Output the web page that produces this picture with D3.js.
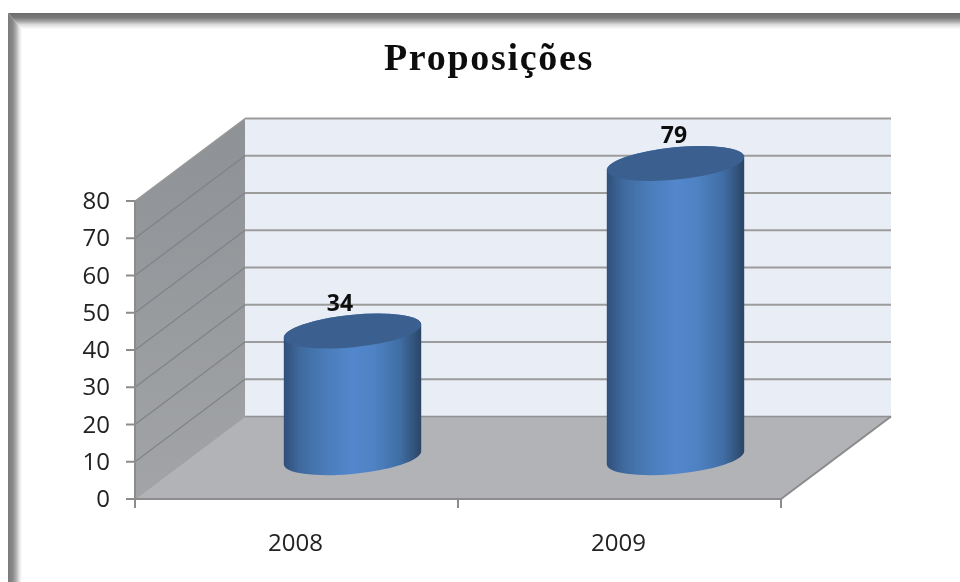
<!DOCTYPE html>
<html><head><meta charset="utf-8">
<script src="https://cdn.jsdelivr.net/npm/d3@7/dist/d3.min.js"></script>
<style>html,body{margin:0;padding:0;background:#fff}svg{display:block}</style></head>
<body><svg id="c" width="960" height="582"></svg>
<script>
const titleText = "Proposições";
const categories = ["2008", "2009"];
const values = [34, 79];
const yTicks = [0,10,20,30,40,50,60,70,80];

const svg = d3.select("#c");
const depthX = 110, depthY = -82.5;
const y = d3.scaleLinear().domain([0,80]).range([499,201]);
const x = d3.scaleBand().domain(categories).range([135,781]);
const defs = svg.append("defs");

function grad(id, x1,y1,x2,y2, stops){
  const g = defs.append("linearGradient").attr("id",id).attr("x1",x1).attr("y1",y1).attr("x2",x2).attr("y2",y2);
  stops.forEach(s=>g.append("stop").attr("offset",s[0]).attr("stop-color",s[1]));
}
grad("frameT",0,0,0,1,[[0,"#6c6c6c"],[0.28,"#787878"],[0.5,"#a0a0a0"],[0.72,"#dadada"],[1,"#ffffff"]]);
grad("frameL",0,0,1,0,[[0,"#7a7a7a"],[0.35,"#8a8a8a"],[0.6,"#b4b4b4"],[0.8,"#e2e2e2"],[1,"#ffffff"]]);
grad("cyl",0,0,1,0,[[0,"#2f4f7a"],[0.12,"#3f6a9e"],[0.3,"#4a7cb8"],[0.5,"#5287cd"],[0.66,"#4f82c3"],[0.85,"#3f6da3"],[1,"#2b4566"]]);
grad("side",0,1,0,0,[[0,"#a2a4a7"],[1,"#8e9195"]]);
defs.append("filter").attr("id","soft").attr("x","-2%").attr("y","-2%").attr("width","104%").attr("height","104%")
  .append("feGaussianBlur").attr("stdDeviation",0.5);

// picture frame
const frame = svg.append("g");
frame.append("polygon").attr("points","8,13 960,13 960,29 22,29").attr("fill","url(#frameT)");
frame.append("polygon").attr("points","8,13 22,29 22,582 8,582").attr("fill","url(#frameL)");

const root = svg.append("g").attr("filter","url(#soft)");
const line = d3.line();

// back wall, floor, side wall
const x0 = x.range()[0], x1 = x.range()[1];
const y0 = y(0), yT = y(80);
root.append("path").attr("d",line([[x0+depthX,yT+depthY],[x1+depthX,yT+depthY],[x1+depthX,y0+depthY],[x0+depthX,y0+depthY]])+"Z").attr("fill","#e9edf6");
root.append("path").attr("d",line([[x0,y0],[x1,y0],[x1+depthX,y0+depthY],[x0+depthX,y0+depthY]])+"Z").attr("fill","#b1b3b7");
root.append("path").attr("d",line([[x0,y0],[x0+depthX,y0+depthY],[x0+depthX,yT+depthY],[x0,yT]])+"Z").attr("fill","url(#side)");

// grid
yTicks.forEach(t=>{
  if(t>0) root.append("path").attr("d",line([[x0,y(t)],[x0+depthX,y(t)+depthY]])).attr("stroke",t===80?"#9a9a9a":"#7f8286").attr("stroke-width",1.2).attr("fill","none");
  root.append("path").attr("d",line([[x0+depthX,y(t)+depthY],[x1+depthX,y(t)+depthY]])).attr("stroke",t===0?"#8f9194":"#9c9c9c").attr("stroke-width",t===0?1.5:2).attr("fill","none");
});
// floor edges and axes
const ax = "#8c8c8c";
root.append("path").attr("d",line([[x0,y0],[x0+depthX,y0+depthY]])).attr("stroke","#9a9c9f").attr("fill","none");
root.append("path").attr("d",line([[x1,y0],[x1+depthX,y0+depthY]])).attr("stroke",ax).attr("stroke-width",2).attr("fill","none");
root.append("path").attr("d",line([[x0,y0],[x1,y0]])).attr("stroke",ax).attr("stroke-width",2).attr("fill","none");
root.append("path").attr("d",line([[x0,yT],[x0,y0]])).attr("stroke",ax).attr("stroke-width",2).attr("fill","none");
yTicks.forEach(t=>{
  root.append("path").attr("d",line([[x0-9,y(t)],[x0,y(t)]])).attr("stroke",ax).attr("stroke-width",2).attr("fill","none");
  root.append("text").attr("x",x0-25).attr("y",y(t)+8).attr("text-anchor","end").attr("class","lab").text(t);
});
const catTicks = [x0, ...categories.map(c=>x(c)+x.bandwidth())];
catTicks.forEach(v=>root.append("path").attr("d",line([[v,y0],[v,y0+9]])).attr("stroke",ax).attr("stroke-width",2).attr("fill","none"));
categories.forEach(c=>{
  root.append("text").attr("x",x(c)+x.bandwidth()/2-1).attr("y",551).attr("text-anchor","middle").attr("class","lab").text(c);
});

// cylinders
const a = 69, b = 16.2, rot = -5.7, tx = 68.7, ty = 6.5, cShift = 1;
const labelDx = [-12.5, -1.5];
categories.forEach((c,i)=>{
  const cx = x(c)+x.bandwidth()/2+depthX/2+cShift;
  const top = y(values[i])+depthY/2, bot = y0+depthY/2;
  const arc = `A${a} ${b} ${rot}`;
  root.append("path").attr("fill","url(#cyl)")
    .attr("d",`M${cx-tx} ${top+ty}L${cx-tx} ${bot+ty}${arc} 0 0 ${cx+tx} ${bot-ty}L${cx+tx} ${top-ty}${arc} 0 0 ${cx-tx} ${top+ty}Z`);
  root.append("ellipse").attr("cx",0).attr("cy",0).attr("rx",a).attr("ry",b)
    .attr("transform",`translate(${cx},${top}) rotate(${rot})`).attr("fill","#3a6190");
  root.append("text").attr("x",cx+labelDx[i]).attr("y",top-20).attr("text-anchor","middle")
    .attr("font-family","'Open Sans',sans-serif").attr("font-weight","700").attr("font-size",23).attr("fill","#111").text(values[i]);
});
root.selectAll(".lab").attr("font-family","'Open Sans',sans-serif").attr("font-size",24).attr("fill","#222");

// title
root.append("text").attr("x",489).attr("y",70).attr("text-anchor","middle")
  .attr("font-family","'Liberation Serif',serif").attr("font-weight","700").attr("font-size",38).attr("letter-spacing",1.7).attr("fill","#111").text(titleText);
</script></body></html>
